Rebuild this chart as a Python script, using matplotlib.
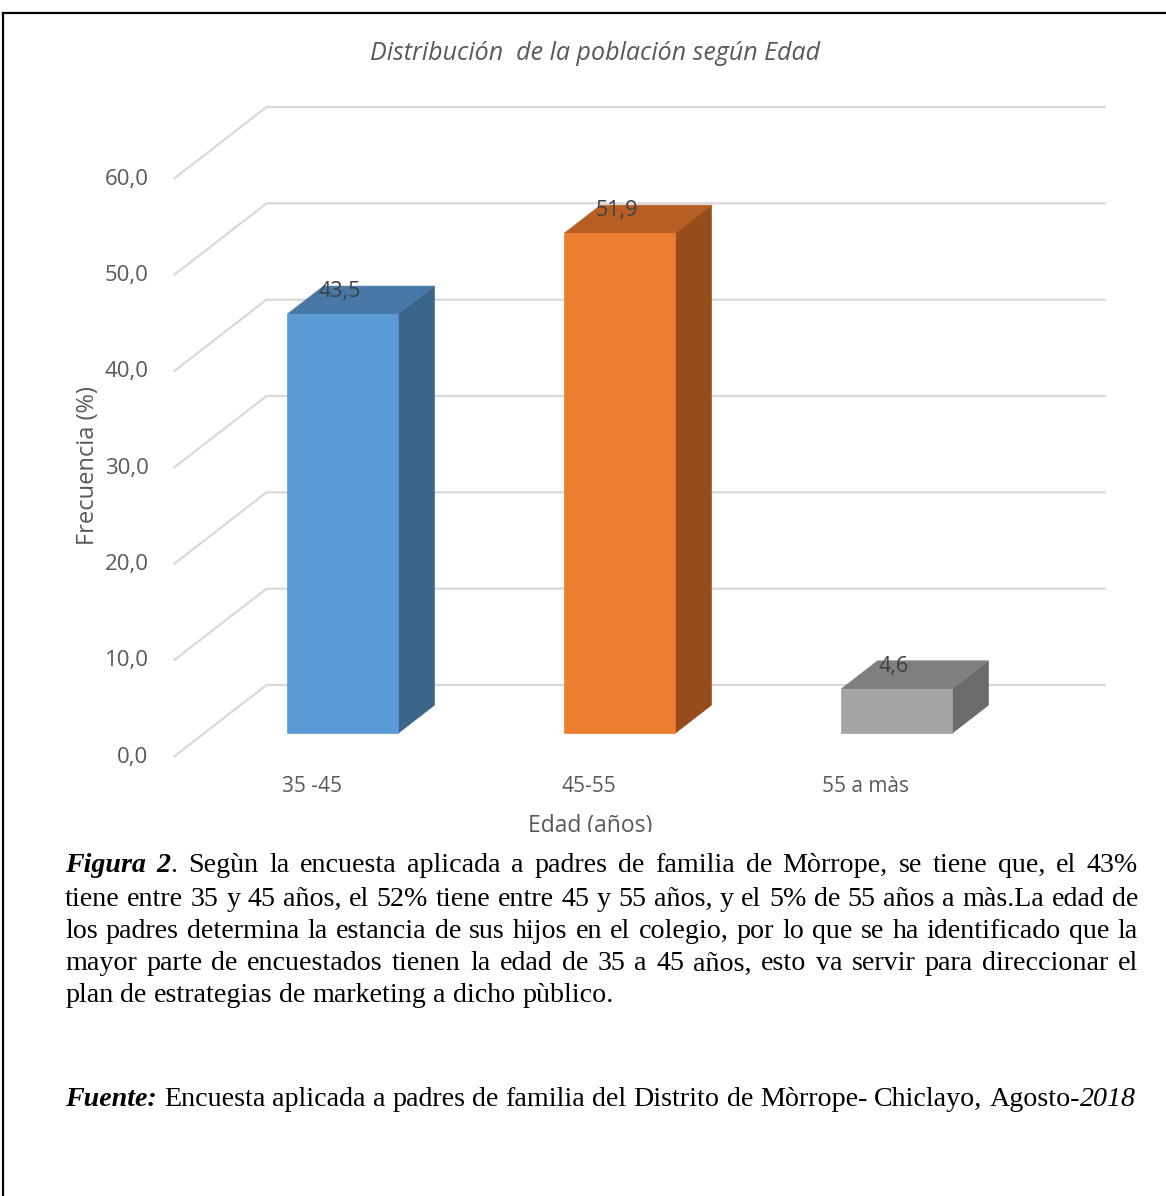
import matplotlib
matplotlib.use("Agg")
import matplotlib.pyplot as plt
from matplotlib.patches import Polygon
from matplotlib.lines import Line2D

# datos del grafico
categorias = ["35 -45", "45-55", "55 a màs"]
frecuencia = [43.5, 51.9, 4.6]
ticks_y = [0, 10, 20, 30, 40, 50, 60]
color_frente = ["#5B9BD5", "#ED7D31", "#A5A5A5"]
color_tapa = ["#4777A7", "#B65E24", "#7F7F7F"]
color_lado = ["#3A6488", "#974C1C", "#6B6B6B"]

titulo = "Distribución  de la población según Edad"
eje_y = "Frecuencia (%)"
eje_x = "Edad (años)"

# texto de la figura (cada palabra = lista de trozos (texto, estilo))
parrafo = [
    [[("Figura", "bi")], [("2", "bi"), (".", "r")],
     "Segùn la encuesta aplicada a padres de familia de Mòrrope, se tiene que, el 43%"],
    ["tiene entre 35 y 45 años, el 52% tiene entre 45 y 55 años, y el 5% de 55 años a màs.La edad de"],
    ["los padres determina la estancia de sus hijos en el colegio, por lo que se ha identificado que la"],
    ["mayor parte de encuestados tienen la edad de 35 a 45 años, esto va servir para direccionar el"],
    ["plan de estrategias de marketing a dicho pùblico."],
]
fuente = [[("Fuente:", "bi")],
          "Encuesta aplicada a padres de familia del Distrito de Mòrrope- Chiclayo,",
          [("Agosto-", "r"), ("2018", "i")]]

W, H = 1166, 1196
fig = plt.figure(figsize=(W / 100, H / 100), dpi=100)
fig.patch.set_facecolor("white")

# escala: categoria 0 en px 312, 277 px por categoria; valor 0 en px 757, 9.633 px por unidad
CX0, CXS, VY0, VYS = 312, 277, 757, 9.633
ax = fig.add_axes([4 / W, 1 - 832 / H, 1162 / W, 818 / H])
ax.set_xlim((4 - CX0) / CXS, (1166 - CX0) / CXS)
ax.set_ylim((VY0 - 832) / VYS, (VY0 - 14) / VYS)
ax.axis("off")

DX = 93 / CXS   # profundidad en x
DY = 72 / VYS   # profundidad en y
x_izq, x_der = -0.5, 2.53


def proj(x, y, d):
    return (x + d * DX, y + d * DY)


gris = "#D9D9D9"
for v in ticks_y:
    a = proj(x_izq, v, 0)
    b = proj(x_izq, v, 1)
    c = proj(x_der, v, 1)
    ax.plot([a[0], b[0], c[0]], [a[1], b[1], c[1]], color=gris, lw=1.6,
            solid_capstyle="butt", solid_joinstyle="miter", zorder=1)
    ax.text(x_izq - 0.09, v, f"{v:.1f}".replace(".", ","), ha="right", va="center",
            fontsize=16, color="#595959", family="Open Sans")

d0, d1, ancho = 0.33, 0.72, 0.2
for i, v in enumerate(frecuencia):
    x0, x1 = i - ancho, i + ancho
    frente = [proj(x0, 0, d0), proj(x1, 0, d0), proj(x1, v, d0), proj(x0, v, d0)]
    tapa = [proj(x0, v, d0), proj(x1, v, d0), proj(x1, v, d1), proj(x0, v, d1)]
    lado = [proj(x1, 0, d0), proj(x1, 0, d1), proj(x1, v, d1), proj(x1, v, d0)]
    for pts, col in ((lado, color_lado[i]), (tapa, color_tapa[i]), (frente, color_frente[i])):
        ax.add_patch(Polygon(pts, closed=True, facecolor=col, edgecolor=col, lw=0.5, zorder=3))
    ax.text(i + 0.1, v + 4.8, f"{v:.1f}".replace(".", ","), ha="center", va="center",
            fontsize=15.5, color="#404040", family="Open Sans", zorder=5)
    ax.text(i, (VY0 - 786) / VYS, categorias[i], ha="center", va="center",
            fontsize=15, color="#595959", family="Open Sans")

ax.text((595 - CX0) / CXS, (VY0 - 53) / VYS, titulo, ha="center", va="center",
        fontsize=18, style="italic", color="#595959", family="Open Sans")
ax.text((88 - CX0) / CXS, (VY0 - 466) / VYS, eje_y, ha="center", va="center",
        rotation=90, fontsize=17, color="#595959", family="Open Sans")
ax.text((590 - CX0) / CXS, (VY0 - 826) / VYS, eje_x, ha="center", va="center",
        fontsize=16.5, color="#595959", family="Open Sans", clip_on=True)

# marco
fig.add_artist(Line2D([3 / W, 1], [1 - 13 / H, 1 - 13 / H], color="black", lw=1.6))
fig.add_artist(Line2D([3 / W, 3 / W], [1 - 13 / H, 0], color="black", lw=1.6))

# texto justificado
FS = 20.2
estilos = {"r": {}, "b": {"weight": "bold"}, "i": {"style": "italic"},
           "bi": {"weight": "bold", "style": "italic"}}
renderer = fig.canvas.get_renderer()
IZQ, DER = 65, 1138


def palabras(items):
    out = []
    for it in items:
        if isinstance(it, str):
            out += [[(w, "r")] for w in it.split()]
        else:
            out.append(it)
    return out


def linea(items, y, justificar):
    ws = palabras(items)
    grupos, anchos = [], []
    for w in ws:
        piezas, tot = [], 0
        for txt, st in w:
            t = fig.text(0, 1 - y / H, txt, fontsize=FS, family="Liberation Serif",
                         va="center", ha="left", color="black", **estilos[st])
            wd = t.get_window_extent(renderer).width
            piezas.append((t, wd))
            tot += wd
        grupos.append(piezas)
        anchos.append(tot)
    if justificar and len(ws) > 1:
        hueco = (DER - IZQ - sum(anchos)) / (len(ws) - 1)
    else:
        hueco = FS * 0.25 * 100 / 72
    x = IZQ
    for piezas, tot in zip(grupos, anchos):
        xx = x
        for t, wd in piezas:
            t.set_x(xx / W)
            xx += wd
        x += tot + hueco


ys = [866, 899, 932, 964, 996]
for k, (items, y) in enumerate(zip(parrafo, ys)):
    linea(items, y, k < len(parrafo) - 1)
linea(fuente, 1099, False)

fig.savefig("out.png", dpi=100, facecolor="white")
